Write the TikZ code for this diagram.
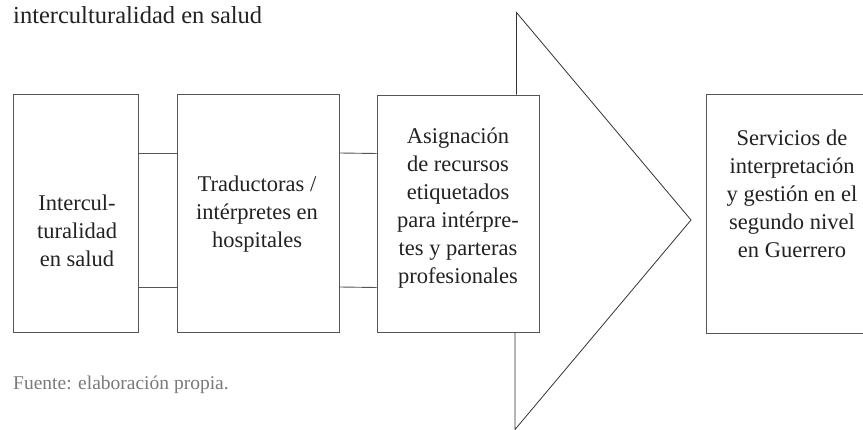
\documentclass[tikz,border=0pt]{standalone}
\usepackage{fontspec}
\setmainfont{Liberation Serif}
\usepackage{tikz}
\definecolor{boxline}{HTML}{555555}
\definecolor{arrline}{HTML}{333333}
\definecolor{txt}{HTML}{222222}
\definecolor{foot}{HTML}{7A7A7A}
\tikzset{
  stagebox/.style={draw=boxline, line width=0.9pt, inner sep=0pt, minimum width=162pt, minimum height=238pt},
  stagetext/.style={align=center, text=txt, font=\fontsize{22.5}{28}\selectfont, inner sep=0pt},
  link/.style={draw=boxline, line width=0.9pt},
  bigarrow/.style={draw=arrline, line width=0.8pt, line join=miter}
}
\begin{document}
\begin{tikzpicture}[x=1pt,y=-1pt]
\useasboundingbox (0,0) rectangle (863,430);
\begin{scope}
\clip (0,0) rectangle (863,430);
% boxes
\node[stagebox, minimum width=125pt] (b1) at (75.5,213) {};
\node[stagebox] (b2) at (258,213) {};
\node[stagebox, minimum height=237pt] (b3) at (458,213.5) {};
\node[stagebox, minimum width=164pt, minimum height=239pt] (b4) at (788,213.5) {};
% links
\draw[link] ([yshift=60pt]b1.east) -- ([yshift=60pt]b2.west);
\draw[link] ([yshift=-74pt]b1.east) -- ([yshift=-74pt]b2.west);
\draw[link] ([yshift=60pt]b2.east) -- ([yshift=60pt]b3.west);
\draw[link] ([yshift=-74pt]b2.east) -- ([yshift=-74pt]b3.west);
% big arrow
\coordinate (atop) at (516.5,12.5);
\coordinate (atip) at (691,220);
\coordinate (abot) at (515,429.5);
\draw[bigarrow] (b3.north -| atop) -- (atop) -- (atip) -- (abot) -- (b3.south -| abot);
\end{scope}
% texts
\node[anchor=base west, inner sep=0pt, text=txt, font=\fontsize{24.5}{28}\selectfont] (title) at (13,24) {interculturalidad en salud};
\node[stagetext] (t1) at (77,231) {Intercul-\\turalidad\\en salud};
\node[stagetext] (t2) at (257,214) {Traductoras /\\intérpretes en\\hospitales};
\node[stagetext] (t3) at (458,208) {Asignación\\de recursos\\etiquetados\\para intérpre-\\tes y parteras\\profesionales};
\node[stagetext] (t4) at (792,194) {Servicios de\\interpretación\\y gestión en el\\segundo nivel\\en Guerrero};
\node[anchor=base west, inner sep=0pt, text=foot, font=\fontsize{19.5}{23}\selectfont] (foot) at (13,390) {Fuente: elaboración propia.};
\end{tikzpicture}
\end{document}
